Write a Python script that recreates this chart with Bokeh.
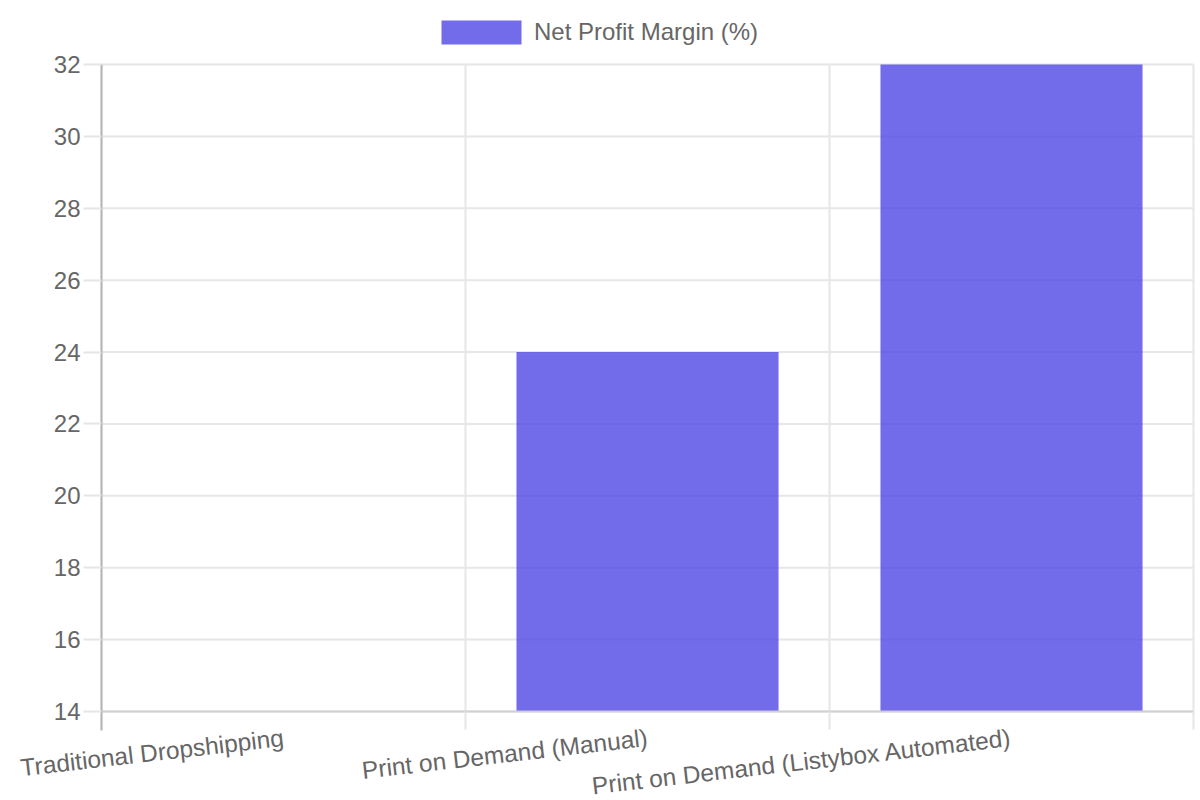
from bokeh.plotting import figure
from bokeh.models import FixedTicker, Legend, LegendItem, ColumnDataSource
from bokeh.embed import file_html
from bokeh.resources import INLINE

categories = ["Traditional Dropshipping", "Print on Demand (Manual)", "Print on Demand (Listybox Automated)"]
net_profit_margin = [14, 24, 32]
y_ticks = [14, 16, 18, 20, 22, 24, 26, 28, 30, 32]
series_name = "Net Profit Margin (%)"

FONT = "Liberation Sans"
TXT = "#666666"
GRID = "#e6e6e6"

# canvas and plot-area geometry (pixels)
W, H = 1200, 800
PL, PR, PT, PB = 101, 1193, 64, 711
TICK = 18

n = len(categories)
xs = [i + 0.5 for i in range(n)]
bounds_x = list(range(n + 1))
y0, y1 = y_ticks[0], y_ticks[-1]
xpp = n / (PR - PL)
ypp = (y1 - y0) / (PB - PT)
x_range = (0 - PL * xpp, n + (W - PR) * xpp)
y_range = (y0 - (H - PB) * ypp, y1 + PT * ypp)

src = ColumnDataSource(dict(x=xs, top=net_profit_margin, cat=categories))

p = figure(width=W, height=H, x_range=x_range, y_range=y_range,
           output_backend="svg", toolbar_location=None,
           min_border_left=0, min_border_right=0, min_border_top=0, min_border_bottom=0)
p.outline_line_color = None
p.background_fill_color = "white"
p.xgrid.visible = False
p.ygrid.visible = False

# grid lines limited to the plot area
p.segment(x0=0, x1=n, y0=y_ticks, y1=y_ticks, line_color=GRID, line_width=2)
p.segment(x0=bounds_x, x1=bounds_x, y0=y0, y1=y1, line_color=GRID, line_width=2)

bars = p.vbar(x="x", top="top", bottom=y0, width=0.72, source=src,
              fill_color=(79, 70, 229), fill_alpha=0.8, line_color=None)

# x axis
xa = p.xaxis[0]
xa.fixed_location = y0
xa.bounds = (0, n)
xa.ticker = FixedTicker(ticks=xs, minor_ticks=bounds_x)
xa.major_label_overrides = {x: c for x, c in zip(xs, categories)}
xa.major_label_orientation = 0.115
xa.major_label_text_font = FONT
xa.major_label_text_font_size = "24.5px"
xa.major_label_text_color = TXT
xa.major_label_standoff = 8
xa.major_tick_out = 0
xa.major_tick_in = 0
xa.minor_tick_out = TICK
xa.minor_tick_in = 0
xa.minor_tick_line_color = GRID
xa.minor_tick_line_width = 2
xa.axis_line_color = "#d0d0d0"
xa.axis_line_width = 2

# y axis (its line continues down through the first x tick)
ya = p.yaxis[0]
ya.fixed_location = 0
ya.bounds = (y0 - (TICK + 1) * ypp, y1)
ya.ticker = FixedTicker(ticks=y_ticks, minor_ticks=[])
ya.major_tick_out = TICK
ya.major_tick_in = 0
ya.major_tick_line_color = GRID
ya.major_tick_line_width = 2
ya.axis_line_color = "#b5b5b5"
ya.axis_line_width = 2
ya.major_label_text_font = FONT
ya.major_label_text_font_size = "24px"
ya.major_label_text_color = TXT
ya.major_label_standoff = 3

legend = Legend(items=[LegendItem(label=series_name, renderers=[bars])],
                location=(431, H - 47), orientation="horizontal",
                glyph_width=100, glyph_height=30, label_height=30,
                label_standoff=3, padding=0, margin=0, spacing=0,
                border_line_color=None, background_fill_alpha=0,
                label_text_font=FONT, label_text_font_size="24px", label_text_color=TXT)
p.add_layout(legend, "center")

open("out.html", "w").write(file_html(p, INLINE))
